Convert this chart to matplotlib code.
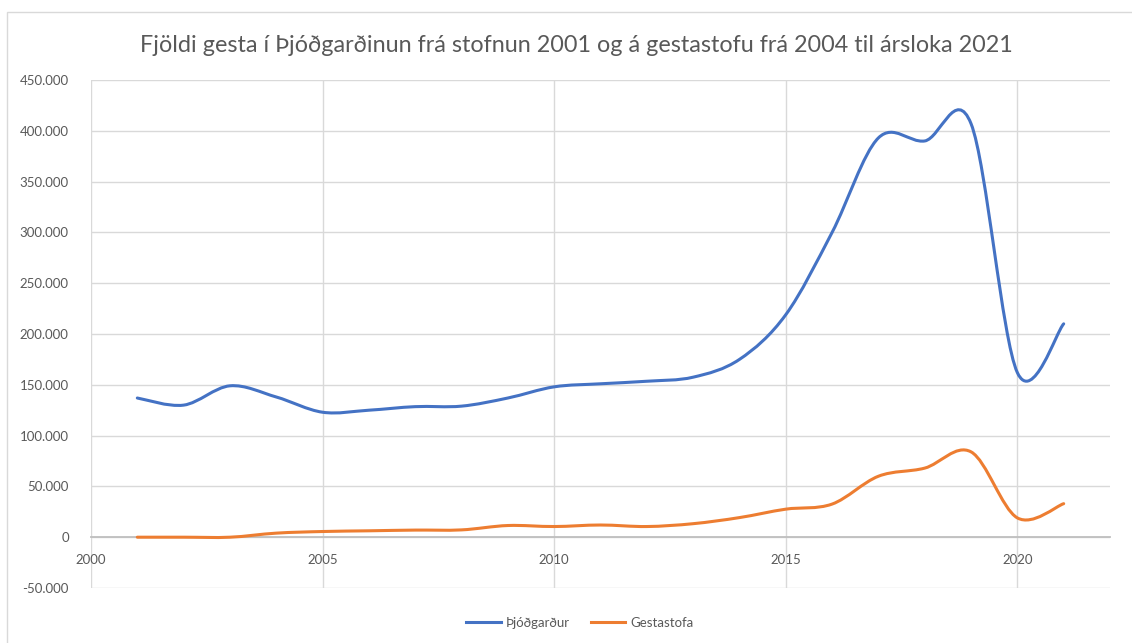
import matplotlib
matplotlib.use("Agg")
import matplotlib.pyplot as plt
import numpy as np
from matplotlib.path import Path
from matplotlib.patches import PathPatch, Rectangle
from matplotlib.lines import Line2D
from matplotlib.ticker import FuncFormatter, MultipleLocator

years = list(range(2001, 2022))
park = [137000, 130000, 149000, 138000, 123000, 125000, 128500, 129000, 137000,
        148000, 151000, 153500, 157500, 175000, 219000, 300000, 393000, 390000,
        407000, 162000, 210000]
visitor_centre = [0, 0, 0, 4000, 5600, 6300, 7000, 7200, 11500, 10500, 12000,
                  10500, 13300, 19300, 27600, 32600, 60000, 68000, 84000, 19000, 33000]
series_names = ["Þjóðgarður", "Gestastofa"]
title = "Fjöldi gesta í Þjóðgarðinun frá stofnun 2001 og á gestastofu frá 2004 til ársloka 2021"

BLUE = "#4472C4"
ORANGE = "#ED7D31"
TXT = "#595959"
GRID = "#D9D9D9"

plt.rcParams['font.family'] = ['Lato', 'DejaVu Sans']


def smooth_path(x, y):
    pts = np.column_stack([x, y]).astype(float)
    n = len(pts)
    verts = [pts[0]]
    codes = [Path.MOVETO]
    for i in range(n - 1):
        p0 = pts[max(i - 1, 0)]
        p1 = pts[i]
        p2 = pts[i + 1]
        p3 = pts[min(i + 2, n - 1)]
        c1 = p1 + (p2 - p0) / 6.0
        c2 = p2 - (p3 - p1) / 6.0
        verts += [c1, c2, p2]
        codes += [Path.CURVE4] * 3
    return Path(verts, codes)


W, H = 1132, 643
fig = plt.figure(figsize=(W / 100, H / 100), dpi=100)
fig.patch.set_facecolor("white")

# outer chart border
fig.patches.append(Rectangle((7 / W, -0.1), 1.2, 1 - 12 / H + 0.1, transform=fig.transFigure,
                             fill=False, edgecolor=GRID, lw=1.0, zorder=0))

left, right = 91 / W, 1110 / W
bottom, top = 1 - 588 / H, 1 - 80 / H
ax = fig.add_axes([left, bottom, right - left, top - bottom])
ax.set_xlim(2000, 2022)
ax.set_ylim(-50000, 450000)

ax.yaxis.set_major_locator(MultipleLocator(50000))
ax.set_xticks([2000, 2005, 2010, 2015, 2020])
ax.grid(True, color=GRID, lw=1.0)
ax.set_axisbelow(True)
for s in ["top", "right", "left"]:
    ax.spines[s].set_visible(False)
ax.spines["bottom"].set_position(("data", 0))
ax.spines["bottom"].set_color("#BFBFBF")
ax.spines["bottom"].set_linewidth(1.3)
ax.spines["bottom"].set_zorder(1)

def fmt(v, pos):
    if v == 0:
        return "0"
    s = f"{abs(int(v)):,}".replace(",", ".")
    return ("-" if v < 0 else "") + s

ax.yaxis.set_major_formatter(FuncFormatter(fmt))
ax.tick_params(axis="both", length=0, labelsize=9.5, colors=TXT)
ax.tick_params(axis="y", pad=16)
ax.tick_params(axis="x", pad=12)

ax.add_patch(PathPatch(smooth_path(years, park), fill=False, edgecolor=BLUE, lw=2.2,
                       capstyle="round", joinstyle="round", zorder=3))
ax.add_patch(PathPatch(smooth_path(years, visitor_centre), fill=False, edgecolor=ORANGE, lw=2.2,
                       capstyle="round", joinstyle="round", zorder=3))

fig.text(576 / W, 1 - 45 / H, title, ha="center", va="center", fontsize=16.8, color=TXT)

handles = [Line2D([], [], color=BLUE, lw=2.2), Line2D([], [], color=ORANGE, lw=2.2)]
fig.legend(handles, series_names, loc="center", bbox_to_anchor=(580 / W, 1 - 623 / H),
           ncol=2, frameon=False, fontsize=9.5, labelcolor=TXT, handlelength=2.6,
           handletextpad=0.4, columnspacing=1.6)

fig.savefig("out.png", dpi=100)
